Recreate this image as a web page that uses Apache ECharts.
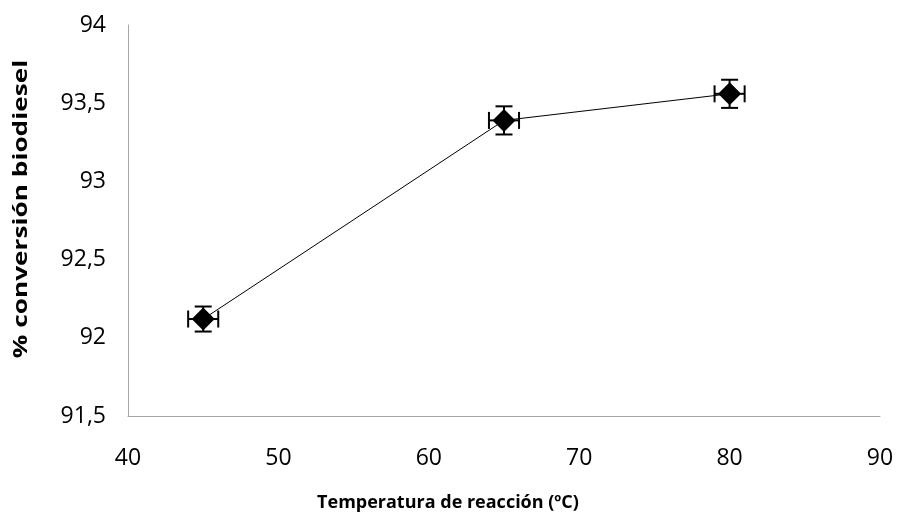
<!DOCTYPE html>
<html><head><meta charset="utf-8">
<script src="https://cdn.jsdelivr.net/npm/echarts@6/dist/echarts.min.js"></script>
<style>html,body{margin:0;padding:0;background:#fff}#c{width:898px;height:519px}</style>
</head><body><div id="c"></div>
<script>
const temps = [45, 65, 80];
const conversion = [92.12, 93.39, 93.56];
const yErr = [0.08, 0.09, 0.09];
const xErr = [1, 1, 1];
const xTitle = 'Temperatura de reacción (ºC)';
const yTitle = '% conversión biodiesel';

const chart = echarts.init(document.getElementById('c'));
const pts = temps.map((t, i) => [t, conversion[i], xErr[i], yErr[i]]);
const font = '"Open Sans", sans-serif';
chart.setOption({
  animation: false,
  grid: { left: 128, top: 25, right: 18, bottom: 103 },
  xAxis: {
    type: 'value', min: 40, max: 90, interval: 10,
    axisLine: { lineStyle: { color: '#a6a6a6', width: 1 } },
    axisTick: { show: false },
    splitLine: { show: false },
    axisLabel: { color: '#000', fontSize: 23, fontFamily: font, margin: 31 }
  },
  yAxis: {
    type: 'value', min: 91.5, max: 94, interval: 0.5,
    axisLine: { show: true, lineStyle: { color: '#a6a6a6', width: 1 } },
    axisTick: { show: false },
    splitLine: { show: false },
    axisLabel: { color: '#000', fontSize: 23, fontFamily: font, margin: 22,
      formatter: v => String(v).replace('.', ',') }
  },
  graphic: [
    { type: 'text', x: 448, y: 503, style: { text: xTitle, fill: '#000', font: 'bold 18px ' + font, align: 'center', verticalAlign: 'middle' } },
    { type: 'text', x: 22, y: 209, rotation: Math.PI / 2, scaleX: 1.38, style: { text: yTitle, fill: '#000', font: 'bold 19px ' + font, align: 'center', verticalAlign: 'middle' } }
  ],
  series: [
    {
      type: 'line', data: pts.map(p => [p[0], p[1]]),
      symbol: 'diamond', symbolSize: 23,
      itemStyle: { color: '#000' },
      lineStyle: { color: '#000', width: 1 },
      z: 3
    },
    {
      type: 'custom', data: pts, z: 2,
      renderItem: (params, api) => {
        const x = api.value(0), y = api.value(1), ex = api.value(2), ey = api.value(3);
        const c = api.coord([x, y]);
        const l = api.coord([x - ex, y]), r = api.coord([x + ex, y]);
        const t = api.coord([x, y + ey]), b = api.coord([x, y - ey]);
        const h = 8.5;
        const st = { stroke: '#000', lineWidth: 2 };
        return { type: 'group', children: [
          { type: 'line', shape: { x1: l[0], y1: c[1], x2: r[0], y2: c[1] }, style: st },
          { type: 'line', shape: { x1: l[0], y1: c[1] - h, x2: l[0], y2: c[1] + h }, style: st },
          { type: 'line', shape: { x1: r[0], y1: c[1] - h, x2: r[0], y2: c[1] + h }, style: st },
          { type: 'line', shape: { x1: c[0], y1: t[1], x2: c[0], y2: b[1] }, style: st },
          { type: 'line', shape: { x1: c[0] - h, y1: t[1], x2: c[0] + h, y2: t[1] }, style: st },
          { type: 'line', shape: { x1: c[0] - h, y1: b[1], x2: c[0] + h, y2: b[1] }, style: st }
        ]};
      }
    }
  ]
});
</script></body></html>
